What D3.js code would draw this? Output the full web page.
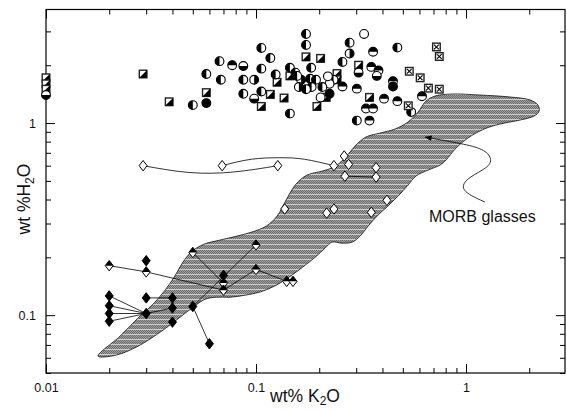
<!DOCTYPE html>
<html>
<head>
<meta charset="utf-8">
<style>
  body { margin: 0; background: #fff; }
  svg { display: block; font-family: "Liberation Sans", Arial, sans-serif; }
</style>
</head>
<body>
<svg id="chart" width="567" height="410"></svg>
<script src="https://d3js.org/d3.v7.min.js"></script>
<script>
// axis ranges and labelled ticks
var xDomain = [0.01, 2.96];
var yDomain = [0.05, 3.9];
var xTickLabels = [0.01, 0.1, 1];
var yTickLabels = [0.1, 1];

// half-filled circles [K2O, H2O, black half]  L R T B, F = filled, O = open
var circles = [
  [0.173, 2.91, "L"], [0.173, 2.55, "L"], [0.106, 2.46, "L"], [0.117, 2.18, "L"],
  [0.067, 2.10, "L"], [0.077, 2.00, "T"], [0.087, 1.98, "B"], [0.106, 1.92, "L"],
  [0.058, 1.80, "L"], [0.068, 1.68, "L"], [0.087, 1.68, "L"], [0.098, 1.68, "R"],
  [0.124, 1.79, "L"], [0.145, 1.94, "L"], [0.154, 1.83, "L"], [0.164, 1.68, "R"],
  [0.181, 1.70, "L"], [0.193, 1.68, "L"], [0.183, 1.94, "L"], [0.184, 1.54, "L"],
  [0.160, 1.54, "R"], [0.173, 1.50, "L"], [0.157, 1.76, "L"], [0.087, 1.42, "L"],
  [0.098, 1.34, "B"], [0.106, 1.46, "L"], [0.145, 1.12, "L"], [0.050, 1.24, "L"],
  [0.058, 1.27, "F"], [0.327, 2.91, "O"], [0.279, 2.62, "L"], [0.279, 2.30, "R"],
  [0.361, 2.35, "T"], [0.471, 2.47, "L"], [0.258, 2.08, "L"], [0.354, 1.96, "T"],
  [0.383, 1.88, "T"], [0.376, 1.76, "B"], [0.308, 1.83, "B"], [0.302, 1.51, "T"],
  [0.258, 1.55, "T"], [0.234, 1.68, "L"], [0.224, 1.60, "O"], [0.220, 1.75, "O"],
  [0.207, 1.54, "L"], [0.224, 1.42, "F"], [0.203, 1.36, "O"], [0.449, 1.65, "T"],
  [0.449, 1.55, "F"], [0.407, 1.34, "T"], [0.471, 1.30, "T"], [0.334, 1.19, "T"],
  [0.361, 1.19, "T"], [0.347, 1.03, "T"], [0.302, 1.03, "L"], [0.548, 1.14, "L"],
  [0.617, 1.38, "T"], [0.010, 1.40, "B"]
];

var halfSquares = [
  [0.029, 1.80], [0.0386, 1.29], [0.058, 1.44], [0.117, 1.41], [0.136, 1.35],
  [0.106, 1.22], [0.195, 1.22], [0.216, 1.36], [0.173, 2.21], [0.203, 2.17],
  [0.308, 2.00], [0.347, 1.36], [0.126, 1.63], [0.145, 1.76], [0.243, 1.81],
  [0.243, 1.68], [0.010, 1.72], [0.010, 1.60], [0.010, 1.50]
];

var crossSquares = [
  [0.723, 2.49], [0.746, 2.22], [0.537, 1.86], [0.605, 1.72],
  [0.662, 1.52], [0.746, 1.50], [0.531, 1.23]
];

var openDiamonds = [
  [0.029, 0.60], [0.069, 0.60], [0.127, 0.60], [0.235, 0.60], [0.263, 0.674],
  [0.276, 0.609], [0.265, 0.529], [0.373, 0.586], [0.373, 0.523], [0.137, 0.357],
  [0.217, 0.340], [0.235, 0.357], [0.354, 0.343], [0.420, 0.396]
];

var filledDiamonds = [
  [0.02, 0.126], [0.02, 0.112], [0.02, 0.102], [0.02, 0.093], [0.03, 0.192],
  [0.03, 0.123], [0.03, 0.102], [0.04, 0.123], [0.04, 0.109], [0.04, 0.092],
  [0.05, 0.111], [0.06, 0.071], [0.07, 0.161]
];

var halfDiamonds = [
  [0.02, 0.181], [0.03, 0.168], [0.05, 0.212], [0.07, 0.147], [0.07, 0.135],
  [0.10, 0.232], [0.10, 0.173], [0.14, 0.150], [0.15, 0.150]
];

var tieLines = [
  [[0.02, 0.181], [0.03, 0.168], [0.07, 0.135], [0.10, 0.173], [0.14, 0.150]],
  [[0.05, 0.212], [0.07, 0.147]],
  [[0.10, 0.232], [0.05, 0.111], [0.06, 0.071]],
  [[0.02, 0.126], [0.03, 0.102]],
  [[0.02, 0.112], [0.03, 0.102]],
  [[0.02, 0.102], [0.03, 0.102]],
  [[0.02, 0.093], [0.03, 0.102]],
  [[0.03, 0.123], [0.04, 0.123]],
  [[0.03, 0.102], [0.04, 0.109]],
  [[0.265, 0.529], [0.373, 0.523]]
];

var curvedLines = [
  [[0.029, 0.60], [0.048, 0.553], [0.078, 0.556], [0.127, 0.60]],
  [[0.069, 0.60], [0.095, 0.648], [0.13, 0.66], [0.17, 0.648], [0.235, 0.60]]
];

// MORB glasses field outline
var morbField = [
  [0.0177, 0.0612], [0.0225, 0.0777], [0.0274, 0.0965], [0.0323, 0.114], [0.0369, 0.135],
  [0.0411, 0.160], [0.0449, 0.189], [0.0496, 0.215], [0.0565, 0.234], [0.0674, 0.246],
  [0.0812, 0.258], [0.0957, 0.271], [0.112, 0.291], [0.126, 0.328], [0.139, 0.397],
  [0.155, 0.481], [0.175, 0.536], [0.206, 0.562], [0.235, 0.590], [0.265, 0.657],
  [0.296, 0.759], [0.334, 0.846], [0.39, 0.887], [0.459, 0.931], [0.529, 1.012],
  [0.591, 1.141], [0.645, 1.302], [0.712, 1.382], [0.858, 1.416], [1.166, 1.399],
  [1.62, 1.366], [2.02, 1.318], [2.20, 1.241], [2.23, 1.155], [2.11, 1.088],
  [1.81, 1.037], [1.45, 0.988], [1.22, 0.931], [1.02, 0.835], [0.896, 0.741],
  [0.803, 0.642], [0.752, 0.604], [0.659, 0.569], [0.578, 0.530], [0.529, 0.475],
  [0.475, 0.417], [0.425, 0.370], [0.381, 0.332], [0.342, 0.291], [0.313, 0.258],
  [0.287, 0.240], [0.257, 0.237], [0.230, 0.240], [0.213, 0.223], [0.191, 0.200],
  [0.167, 0.178], [0.144, 0.158], [0.123, 0.142], [0.1045, 0.132], [0.0886, 0.127],
  [0.0752, 0.124], [0.0645, 0.124], [0.0572, 0.121], [0.0507, 0.111], [0.0435, 0.0976],
  [0.0349, 0.0815], [0.0274, 0.0689], [0.0215, 0.0619]
];

var labelArrow = [
  [1.23, 0.388], [0.92, 0.448], [1.02, 0.523], [1.30, 0.590], [1.33, 0.665],
  [1.19, 0.741], [0.92, 0.787], [0.64, 0.845]
];

var svg = d3.select("#chart");
var x = d3.scaleLog().domain(xDomain).range([46, 565]);
var y = d3.scaleLog().domain(yDomain).range([373, 9.5]);

var defs = svg.append("defs");
var pat = defs.append("pattern").attr("id", "dots")
  .attr("width", 2).attr("height", 5).attr("patternUnits", "userSpaceOnUse");
pat.append("rect").attr("width", 2).attr("height", 5).attr("fill", "#a2a2a2");
[[0, 0], [1, 1], [0, 2], [1, 3]].forEach(function (p) {
  pat.append("rect").attr("x", p[0]).attr("y", p[1]).attr("width", 1).attr("height", 1).attr("fill", "#6a6a6a");
});
pat.append("rect").attr("y", 4).attr("width", 2).attr("height", 1).attr("fill", "#cfcfcf");

defs.append("marker").attr("id", "head")
  .attr("viewBox", "0 0 10 10").attr("refX", 9).attr("refY", 5)
  .attr("markerWidth", 9).attr("markerHeight", 7).attr("orient", "auto")
  .attr("markerUnits", "userSpaceOnUse")
  .append("path").attr("d", "M0,1L10,5L0,9Z").attr("fill", "#000");

var line = d3.line().x(function (d) { return x(d[0]); }).y(function (d) { return y(d[1]); });

/* MORB field */
svg.append("path")
  .attr("d", line.curve(d3.curveCatmullRomClosed)(morbField))
  .attr("fill", "url(#dots)")
  .attr("stroke", "#111").attr("stroke-width", 0.8);

/* axes: major and minor ticks on all sides, pointing in */
var minorX = x.ticks().filter(function (v) { return xTickLabels.indexOf(v) < 0; });
var minorY = y.ticks().filter(function (v) { return yTickLabels.indexOf(v) < 0; });
var fmt = d3.format("~g");

function addAxis(axis, tr, values, size, labels) {
  var g = svg.append("g").attr("transform", tr)
    .call(axis.tickValues(values).tickSizeInner(-size).tickSizeOuter(0).tickPadding(10)
      .tickFormat(labels ? fmt : ""));
  g.select(".domain").remove();
  g.selectAll("line").attr("stroke", "#000").attr("stroke-width", 1);
  g.selectAll("text").attr("font-size", 12.5).attr("fill", "#111")
    .style("font-family", "'Liberation Sans', Arial, sans-serif");
  return g;
}
addAxis(d3.axisBottom(x), "translate(0,373)", xTickLabels, 9, true);
addAxis(d3.axisBottom(x), "translate(0,373)", minorX, 5, false);
addAxis(d3.axisTop(x), "translate(0,9.5)", xTickLabels, 9, false);
addAxis(d3.axisTop(x), "translate(0,9.5)", minorX, 5, false);
addAxis(d3.axisLeft(y), "translate(46,0)", yTickLabels, 9, true);
addAxis(d3.axisLeft(y), "translate(46,0)", minorY, 5, false);
addAxis(d3.axisRight(y), "translate(565,0)", yTickLabels, 9, false);
addAxis(d3.axisRight(y), "translate(565,0)", minorY, 5, false);

svg.append("rect").attr("x", 46).attr("y", 9.5).attr("width", 519).attr("height", 363.5)
  .attr("fill", "none").attr("stroke", "#000").attr("stroke-width", 1.2);

/* connecting lines */
svg.append("g").selectAll("path").data(tieLines).enter().append("path")
  .attr("d", line.curve(d3.curveLinear))
  .attr("fill", "none").attr("stroke", "#000").attr("stroke-width", 0.8);
svg.append("g").selectAll("path").data(curvedLines).enter().append("path")
  .attr("d", d3.line().x(function (d) { return x(d[0]); }).y(function (d) { return y(d[1]); })
    .curve(d3.curveNatural))
  .attr("fill", "none").attr("stroke", "#000").attr("stroke-width", 0.8);

/* symbols */
function place(sel) {
  return sel.attr("transform", function (d) { return "translate(" + x(d[0]) + "," + y(d[1]) + ")"; });
}
var dw = 4, dh = 5.2;
var diamond = "M0," + (-dh) + "L" + dw + ",0L0," + dh + "L" + (-dw) + ",0Z";
var topHalf = "M" + (-dw) + ",0L0," + (-dh) + "L" + dw + ",0Z";

var od = place(svg.append("g").selectAll("g").data(openDiamonds).enter().append("g"));
od.append("path").attr("d", diamond).attr("fill", "#fff").attr("stroke", "#000").attr("stroke-width", 1);

var fd = place(svg.append("g").selectAll("g").data(filledDiamonds).enter().append("g"));
fd.append("path").attr("d", diamond).attr("fill", "#000").attr("stroke", "#000").attr("stroke-width", 1);

var hd = place(svg.append("g").selectAll("g").data(halfDiamonds).enter().append("g"));
hd.append("path").attr("d", diamond).attr("fill", "#fff").attr("stroke", "#000").attr("stroke-width", 1);
hd.append("path").attr("d", topHalf).attr("fill", "#000");

var s = 3.8;
var hs = place(svg.append("g").selectAll("g").data(halfSquares).enter().append("g"));
hs.append("rect").attr("x", -s).attr("y", -s).attr("width", 2 * s).attr("height", 2 * s)
  .attr("fill", "#fff").attr("stroke", "#222").attr("stroke-width", 1.4);
hs.append("path").attr("d", "M" + s + "," + (-s) + "L" + s + "," + s + "L" + (-s) + "," + s + "Z").attr("fill", "#000");

var r = 4.4;
function halfArc(t) {
  if (t === "L") return "M0," + (-r) + "A" + r + "," + r + " 0 0 0 0," + r + "Z";
  if (t === "R") return "M0," + (-r) + "A" + r + "," + r + " 0 0 1 0," + r + "Z";
  if (t === "T") return "M" + (-r) + ",0A" + r + "," + r + " 0 0 1 " + r + ",0Z";
  if (t === "B") return "M" + (-r) + ",0A" + r + "," + r + " 0 0 0 " + r + ",0Z";
  return null;
}
var cg = place(svg.append("g").selectAll("g").data(circles).enter().append("g"));
cg.append("circle").attr("r", r)
  .attr("fill", function (d) { return d[2] === "F" ? "#000" : "#fff"; })
  .attr("stroke", "#000").attr("stroke-width", 1.1);
cg.filter(function (d) { return halfArc(d[2]); })
  .append("path").attr("d", function (d) { return halfArc(d[2]); }).attr("fill", "#000");

var cs = place(svg.append("g").selectAll("g").data(crossSquares).enter().append("g"));
cs.append("rect").attr("x", -s).attr("y", -s).attr("width", 2 * s).attr("height", 2 * s)
  .attr("fill", "#fff").attr("stroke", "#222").attr("stroke-width", 1.4);
cs.append("path").attr("d", "M-2.4,-2.4L2.4,2.4M2.4,-2.4L-2.4,2.4")
  .attr("stroke", "#000").attr("stroke-width", 1.1);

/* annotation */
svg.append("path")
  .attr("d", d3.line().x(function (d) { return x(d[0]); }).y(function (d) { return y(d[1]); })
    .curve(d3.curveBasis)(labelArrow))
  .attr("fill", "none").attr("stroke", "#000").attr("stroke-width", 0.8)
  .attr("marker-end", "url(#head)");
svg.append("text").attr("x", 429).attr("y", 222).attr("font-size", 16).attr("fill", "#111")
  .text("MORB glasses");

/* axis titles */
var xt = svg.append("text").attr("x", 305).attr("y", 402).attr("text-anchor", "middle")
  .attr("font-size", 17.5).attr("fill", "#111");
xt.append("tspan").text("wt% K");
xt.append("tspan").attr("font-size", 12).attr("dy", 3).text("2");
xt.append("tspan").attr("dy", -3).text("O");

var yt = svg.append("text").attr("transform", "translate(30,199) rotate(-90)")
  .attr("text-anchor", "middle").attr("font-size", 17.5).attr("fill", "#111");
yt.append("tspan").text("wt %H");
yt.append("tspan").attr("font-size", 12).attr("dy", 4).text("2");
yt.append("tspan").attr("dy", -4).text("O");
</script>
</body>
</html>
